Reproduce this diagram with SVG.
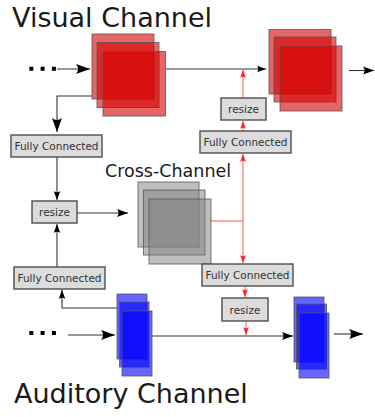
<svg xmlns="http://www.w3.org/2000/svg" width="375" height="417" viewBox="0 0 375 417">
<style>
.title{font-family:"DejaVu Sans",sans-serif;font-size:27px;fill:#1a1a1a}
.sub{font-family:"DejaVu Sans",sans-serif;font-size:17.5px;fill:#1a1a1a}
.box rect{fill:#dcdcdc;stroke:#4d4d4d;stroke-width:1.4}
.box text{font-family:"DejaVu Sans",sans-serif;font-size:10.5px;fill:#333;text-anchor:middle}
.red rect{fill:#d40000;fill-opacity:0.6;stroke:#555;stroke-opacity:0.8;stroke-width:1}
.gray rect{fill:#808080;fill-opacity:0.5;stroke:#555;stroke-opacity:0.8;stroke-width:1}
.blue rect{fill:#0000ff;fill-opacity:0.6;stroke:#555;stroke-opacity:0.8;stroke-width:1}
.k{fill:none;stroke:#333;stroke-width:1.1}
.r{fill:none;stroke:#ff0000;stroke-opacity:0.6;stroke-width:1.1}
.dots{fill:none;stroke:#000;stroke-width:4;stroke-dasharray:4 7.3}
</style>
<defs>
<marker id="big" markerUnits="userSpaceOnUse" orient="auto" refX="0" refY="0" markerWidth="16" markerHeight="12" viewBox="-15 -6 16 12" overflow="visible">
<path d="M0,0 L-14,-5 Q-10,0 -14,5 Z" fill="#000"/>
</marker>
<marker id="med" markerUnits="userSpaceOnUse" orient="auto" refX="0" refY="0" markerWidth="13" markerHeight="10" viewBox="-12 -5 13 10" overflow="visible">
<path d="M0,0 L-11,-4 Q-8,0 -11,4 Z" fill="#000"/>
</marker>
<marker id="sm" markerUnits="userSpaceOnUse" orient="auto" refX="0" refY="0" markerWidth="10" markerHeight="8" viewBox="-9 -4 10 8" overflow="visible">
<path d="M0,0 L-9,-3.3 Q-6.5,0 -9,3.3 Z" fill="#000"/>
</marker>
<marker id="rs" markerUnits="userSpaceOnUse" orient="auto" refX="0" refY="0" markerWidth="10" markerHeight="8" viewBox="-9 -4 10 8" overflow="visible">
<path d="M0,0 L-8,-3 Q-5.5,0 -8,3 Z" fill="#ff0000" fill-opacity="0.8"/>
</marker>
</defs>

<text class="title" x="12" y="27">Visual Channel</text>
<text class="title" x="14" y="403">Auditory Channel</text>
<text class="sub" x="105" y="177">Cross-Channel</text>

<g id="connectors">
<path class="dots" d="M29.3,68.8 H57"/>
<path class="dots" d="M29.3,333 H57"/>
<path class="k" d="M57,69 H90" marker-end="url(#big)"/>
<path class="k" d="M166,69 H266" marker-end="url(#sm)"/>
<path class="k" d="M349,70.5 H374" marker-end="url(#med)"/>
<path class="k" d="M92,96 H57 V132" marker-end="url(#big)"/>
<path class="k" d="M57,157 V200" marker-end="url(#sm)"/>
<path class="k" d="M77,213 H128" marker-end="url(#med)"/>
<path class="k" d="M57,267 V224" marker-end="url(#sm)"/>
<path class="k" d="M117,308 H62 V290" marker-end="url(#sm)"/>
<path class="k" d="M68,335 H115" marker-end="url(#big)"/>
<path class="k" d="M152,336 H293" marker-end="url(#med)"/>
<path class="k" d="M334,334 H363" marker-end="url(#big)"/>
<path class="r" d="M211,221 H243"/>
<path class="r" d="M243,221 V154" marker-end="url(#rs)"/>
<path class="r" d="M243,221 V263" marker-end="url(#rs)"/>
<path class="r" d="M243,131 V121" marker-end="url(#rs)"/>
<path class="r" d="M243,98 V70" marker-end="url(#rs)"/>
<path class="r" d="M245,286 V297" marker-end="url(#rs)"/>
<path class="r" d="M246,321 V335" marker-end="url(#rs)"/>
</g>

<g id="visual-in" class="red">
<rect x="92" y="34" width="62" height="65"/>
<rect x="97" y="42.5" width="62" height="65"/>
<rect x="103" y="51.5" width="62.5" height="64.5"/>
</g>
<g id="visual-out" class="red">
<rect x="269" y="29.5" width="62" height="64.5"/>
<rect x="274" y="37" width="62" height="65"/>
<rect x="280" y="46" width="62" height="65"/>
</g>
<g id="cross-channel" class="gray">
<rect x="138" y="182" width="61" height="65"/>
<rect x="143.5" y="190" width="61.5" height="65"/>
<rect x="149" y="199" width="62" height="65"/>
</g>
<g id="auditory-in" class="blue">
<rect x="117" y="294" width="30" height="65"/>
<rect x="119.5" y="302" width="29.5" height="65"/>
<rect x="122" y="311" width="30" height="65"/>
</g>
<g id="auditory-out" class="blue">
<rect x="294" y="297" width="30" height="65"/>
<rect x="296.5" y="304" width="30" height="65"/>
<rect x="299" y="313" width="30" height="65"/>
</g>

<g id="fc-visual-left" class="box">
<rect x="11" y="135" width="91" height="22"/>
<text x="56.5" y="150">Fully Connected</text>
</g>
<g id="resize-left" class="box">
<rect x="32" y="201" width="45" height="22"/>
<text x="54.5" y="216">resize</text>
</g>
<g id="fc-auditory-left" class="box">
<rect x="14" y="267" width="91" height="22"/>
<text x="59.5" y="282">Fully Connected</text>
</g>
<g id="resize-visual-right" class="box">
<rect x="221" y="98" width="45" height="22"/>
<text x="243.5" y="113">resize</text>
</g>
<g id="fc-visual-right" class="box">
<rect x="200" y="131" width="91" height="22"/>
<text x="245.5" y="146">Fully Connected</text>
</g>
<g id="fc-auditory-right" class="box">
<rect x="202" y="264" width="91" height="22"/>
<text x="247.5" y="279">Fully Connected</text>
</g>
<g id="resize-auditory-right" class="box">
<rect x="222" y="298" width="46" height="23"/>
<text x="245" y="313.5">resize</text>
</g>
</svg>
